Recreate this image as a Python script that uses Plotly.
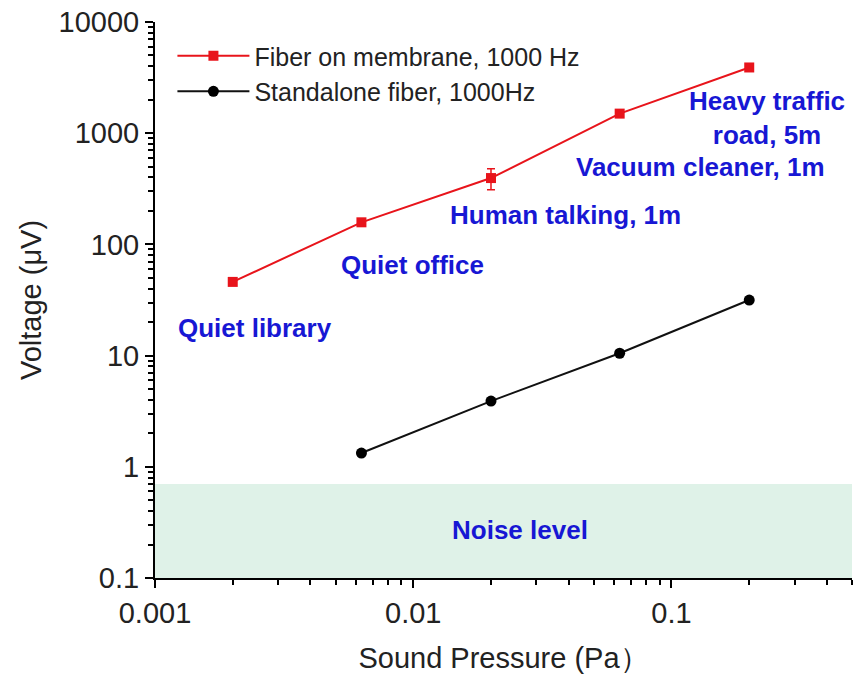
import plotly.graph_objects as go
import math

# Data
pressure_membrane = [0.002, 0.0063, 0.02, 0.063, 0.2]
voltage_membrane = [46, 158, 395, 1500, 3900]
error_membrane = [0, 0, 85, 0, 0]

pressure_fiber = [0.0063, 0.02, 0.063, 0.2]
voltage_fiber = [1.33, 3.9, 10.5, 31.6]

noise_level = 0.7

y_ticks = [0.1, 1, 10, 100, 1000, 10000]
y_tick_labels = ["0.1", "1", "10", "100", "1000", "10000"]
x_ticks = [0.001, 0.01, 0.1]
x_tick_labels = ["0.001", "0.01", "0.1"]

labels = ["Quiet library", "Quiet office", "Human talking, 1m",
          "Vacuum cleaner, 1m", "Heavy traffic<br>road, 5m", "Noise level"]
label_x = [0.00244, 0.00995, 0.0389, 0.1294, 0.235, 0.0258]
label_y = [17.6, 64.9, 182, 493, 1358, 0.27]

x_range = [-3, math.log10(0.5)]
y_range = [-1, 4]
x_minor = [k * 10.0 ** e for e in range(-3, 0) for k in range(2, 10)]
y_minor = [k * 10.0 ** e for e in range(-1, 4) for k in range(2, 10)]

TXT = "#222222"
BLUE = "#1717d4"

fig = go.Figure()

fig.add_shape(type="rect", xref="paper", x0=0, x1=1, yref="y",
              y0=0.1, y1=noise_level, fillcolor="#dff2e8",
              line=dict(width=0), layer="below")

fig.add_trace(go.Scatter(
    x=pressure_membrane, y=voltage_membrane, mode="lines+markers",
    name="Fiber on membrane, 1000 Hz",
    line=dict(color="#e8141b", width=2),
    marker=dict(symbol="square", size=10, color="#e8141b"),
    error_y=dict(type="data", array=error_membrane, color="#e8141b",
                 thickness=1.5, width=4, visible=True)))

fig.add_trace(go.Scatter(
    x=pressure_fiber, y=voltage_fiber, mode="lines+markers",
    name="Standalone fiber, 1000Hz",
    line=dict(color="#111111", width=2),
    marker=dict(symbol="circle", size=11, color="#000000")))

for t, lx, ly in zip(labels, label_x, label_y):
    fig.add_annotation(x=math.log10(lx), y=math.log10(ly), text=t,
                       showarrow=False, xanchor="center", yanchor="middle",
                       font=dict(family="Arial", size=26, color=BLUE,
                                 weight="bold"))

def axis_style(minor_vals, ticks_dir, show_labels):
    return dict(
        type="log", showgrid=False, zeroline=False, showline=True,
        linecolor="black", linewidth=2, ticks=ticks_dir,
        ticklen=8, tickwidth=2, tickcolor="black",
        showticklabels=show_labels,
        tickfont=dict(family="Arial", size=29, color=TXT),
        minor=dict(ticks=ticks_dir, ticklen=5, tickwidth=1.5,
                   tickcolor="black", showgrid=False, tickvals=minor_vals),
    )

title_font = dict(family="Arial", size=29, color=TXT)

fig.update_layout(
    xaxis=dict(**axis_style(x_minor, "outside", True), range=x_range,
               tickvals=x_ticks, ticktext=x_tick_labels,
               title=dict(text="Sound Pressure (Pa\uff09", font=title_font,
                          standoff=20)),
    yaxis=dict(**axis_style(y_minor, "outside", True), range=y_range,
               tickvals=y_ticks, ticktext=y_tick_labels,
               title=dict(text="Voltage (\u03bcV)", font=title_font,
                          standoff=8)),
    xaxis2=dict(**axis_style(x_minor, "inside", False), range=x_range,
                tickvals=x_ticks, overlaying="x", side="top", anchor="y"),
    yaxis2=dict(**axis_style(y_minor, "inside", False), range=y_range,
                tickvals=y_ticks, overlaying="y", side="right", anchor="x"),
    width=859, height=676,
    margin=dict(l=155, r=7, t=22, b=98),
    paper_bgcolor="white", plot_bgcolor="white",
    font=dict(family="Arial"),
    legend=dict(x=0.025, y=0.98, xanchor="left", yanchor="top",
                bgcolor="rgba(0,0,0,0)",
                font=dict(family="Arial", size=25, color=TXT),
                tracegroupgap=0, itemwidth=72),
    showlegend=True,
)

fig.write_html("out.html")
